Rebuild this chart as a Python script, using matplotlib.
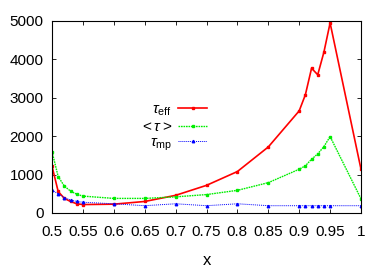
import matplotlib
matplotlib.use("Agg")
import matplotlib.pyplot as plt
from matplotlib import font_manager

x = [0.5, 0.51, 0.52, 0.53, 0.54, 0.55, 0.6, 0.65, 0.7, 0.75, 0.8, 0.85,
     0.9, 0.91, 0.92, 0.93, 0.94, 0.95, 1.0]
tau_eff = [1220, 560, 380, 300, 240, 220, 230, 300, 460, 720, 1080, 1720,
           2660, 3080, 3770, 3600, 4190, 4950, 1140]
tau_avg = [1600, 950, 700, 570, 490, 440, 380, 380, 420, 480, 590, 790,
           1140, 1230, 1400, 1540, 1730, 1990, 370]
tau_mp = [590, 500, 400, 340, 300, 280, 240, 190, 240, 190, 240, 190,
          190, 190, 190, 190, 190, 190, 190]

xticks = [0.5, 0.55, 0.6, 0.65, 0.7, 0.75, 0.8, 0.85, 0.9, 0.95, 1]
xticklabels = ["0.5", "0.55", "0.6", "0.65", "0.7", "0.75", "0.8", "0.85", "0.9", "0.95", "1"]
yticks = [0, 1000, 2000, 3000, 4000, 5000]

names = {f.name for f in font_manager.fontManager.ttflist}
fam = 'Liberation Sans Narrow' if 'Liberation Sans Narrow' in names else 'Liberation Sans'
plt.rcParams['font.family'] = [fam, 'DejaVu Sans']
plt.rcParams['mathtext.fontset'] = 'custom'
plt.rcParams['mathtext.rm'] = fam
plt.rcParams['mathtext.it'] = fam + ':italic'

fig = plt.figure(figsize=(3.82, 2.73), dpi=100)
ax = fig.add_axes([52/382, 1 - 213/273, (361-52)/382, (213-21)/273])

ax.plot(x, tau_eff, color='#ff0000', lw=1.2, marker='s', ms=1.8, label=r'$\tau_{\rm eff}$')
ax.plot(x, tau_avg, color='#00ee00', lw=1.0, ls=(0, (1.2, 0.6)), marker='s', ms=1.8, label=r'$<\tau>$')
ax.plot(x, tau_mp, color='#0000ff', lw=0.7, ls=(0, (1, 1)), marker='^', ms=1.8, label=r'$\tau_{\rm mp}$')

ax.set_xlim(0.5, 1.0)
ax.set_ylim(0, 5000)
ax.set_xticks(xticks)
ax.set_xticklabels(xticklabels)
ax.set_yticks(yticks)
ax.tick_params(direction='in', top=True, right=True, labelsize=11, length=3, width=0.6)
ax.tick_params(axis='x', pad=9)
ax.tick_params(axis='y', pad=6)
for s in ax.spines.values():
    s.set_linewidth(0.8)
ax.set_xlabel('x', fontsize=12, labelpad=10)

leg = ax.legend(loc='upper left', bbox_to_anchor=((132-52)/309, 1 - (95-21)/192),
                frameon=False, markerfirst=False, fontsize=11, handlelength=1.9,
                labelspacing=0.12, handletextpad=0.4, borderpad=0)

fig.savefig('out.png', dpi=100)
